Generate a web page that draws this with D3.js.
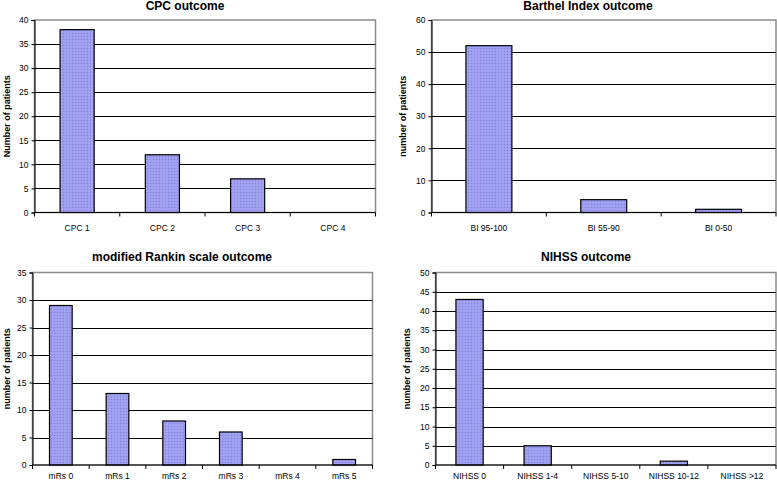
<!DOCTYPE html>
<html><head><meta charset="utf-8">
<script src="https://cdn.jsdelivr.net/npm/d3@7"></script>
<style>body{margin:0;background:#fff}svg{display:block}</style>
</head><body>
<svg id="c" width="777" height="483"></svg>
<script>
const cpcCategories = ["CPC 1","CPC 2","CPC 3","CPC 4"];
const cpcValues = [38,12,7,0];
const cpcTicks = [0,5,10,15,20,25,30,35,40];

const biCategories = ["BI 95-100","BI 55-90","BI 0-50"];
const biValues = [52,4,1];
const biTicks = [0,10,20,30,40,50,60];

const mrsCategories = ["mRs 0","mRs 1","mRs 2","mRs 3","mRs 4","mRs 5"];
const mrsValues = [29,13,8,6,0,1];
const mrsTicks = [0,5,10,15,20,25,30,35];

const nihssCategories = ["NIHSS 0","NIHSS 1-4","NIHSS 5-10","NIHSS 10-12","NIHSS >12"];
const nihssValues = [43,5,0,1,0];
const nihssTicks = [0,5,10,15,20,25,30,35,40,45,50];

const svg = d3.select("#c");
const font = "Liberation Sans, Arial, sans-serif";

const defs = svg.append("defs");
const pat = defs.append("pattern").attr("id","dots").attr("patternUnits","userSpaceOnUse")
  .attr("width",3).attr("height",3);
pat.append("rect").attr("width",3).attr("height",3).attr("fill","#9d9df2");
pat.append("rect").attr("x",0).attr("y",0).attr("width",1).attr("height",1).attr("fill","#8282d6");
pat.append("rect").attr("x",1.5).attr("y",1.5).attr("width",1).attr("height",1).attr("fill","#b0b0f8");

function panel(o){
  const g = svg.append("g");
  const x = d3.scaleBand().domain(o.cats).range([o.left,o.right]).paddingInner(0.6).paddingOuter(0.3);
  const xb = d3.scaleBand().domain(o.cats).range([o.left,o.right]);
  const y = d3.scaleLinear().domain([0,d3.max(o.ticks)]).range([o.bottom,o.top]);
  g.append("rect").attr("x",o.left).attr("y",o.top).attr("width",o.right-o.left).attr("height",o.bottom-o.top)
    .attr("fill","#fff").attr("stroke","#8c8c8c").attr("stroke-width",1.5);
  g.selectAll(".gl").data(o.ticks.slice(1,-1)).join("line")
    .attr("x1",o.left).attr("x2",o.right).attr("y1",d=>Math.round(y(d))+0.5).attr("y2",d=>Math.round(y(d))+0.5)
    .attr("stroke","#000").attr("stroke-width",1.2);
  const ya = g.append("g").attr("transform",`translate(${o.left},0)`)
    .call(d3.axisLeft(y).tickValues(o.ticks).tickSize(3).tickPadding(3));
  ya.select(".domain").attr("stroke","#000");
  ya.selectAll("text").attr("font-family",font).attr("font-size",8.5).attr("fill","#000");
  g.selectAll(".bar").data(o.vals).join("rect")
    .attr("x",(d,i)=>x(o.cats[i])).attr("width",x.bandwidth())
    .attr("y",d=>y(d)).attr("height",d=>o.bottom-y(d))
    .attr("fill","url(#dots)").attr("stroke","#000").attr("stroke-width",1.2)
    .style("display",d=>d>0?null:"none");
  g.append("line").attr("x1",o.left).attr("x2",o.right).attr("y1",o.bottom).attr("y2",o.bottom).attr("stroke","#000").attr("stroke-width",1.2);
  const edges = o.cats.map(c=>xb(c)).concat([o.right]);
  g.selectAll(".xt").data(edges).join("line")
    .attr("x1",d=>d).attr("x2",d=>d).attr("y1",o.bottom).attr("y2",o.bottom+4).attr("stroke","#000");
  g.selectAll(".xl").data(o.cats).join("text")
    .attr("x",d=>xb(d)+xb.bandwidth()/2).attr("y",o.bottom+o.labOff)
    .attr("text-anchor","middle").attr("font-family",font).attr("font-size",8.5).text(d=>d);
  g.append("text").attr("x",o.titleX).attr("y",o.titleY).attr("text-anchor","middle")
    .attr("font-family",font).attr("font-weight","bold").attr("font-size",12).text(o.title);
  g.append("text").attr("transform",`translate(${o.ylabX},${(o.top+o.bottom)/2}) rotate(-90)`)
    .attr("text-anchor","middle").attr("font-family",font).attr("font-weight","bold").attr("font-size",9).text(o.ylab);
}

panel({cats:cpcCategories, vals:cpcValues, ticks:cpcTicks, left:34.5, right:375.5, top:20, bottom:212.5, labOff:18,
  title:"CPC outcome", titleX:185, titleY:10, ylab:"Number of patients", ylabX:10});
panel({cats:biCategories, vals:biValues, ticks:biTicks, left:431.5, right:776, top:20, bottom:212.5, labOff:18,
  title:"Barthel Index outcome", titleX:588, titleY:10, ylab:"number of patients", ylabX:406});
panel({cats:mrsCategories, vals:mrsValues, ticks:mrsTicks, left:32.5, right:372.5, top:272.5, bottom:465, labOff:14,
  title:"modified Rankin scale outcome", titleX:182, titleY:261, ylab:"number of patients", ylabX:9.5});
panel({cats:nihssCategories, vals:nihssValues, ticks:nihssTicks, left:435.5, right:776, top:272.5, bottom:465, labOff:14,
  title:"NIHSS outcome", titleX:586, titleY:261, ylab:"number of patients", ylabX:410});
</script>
</body></html>
